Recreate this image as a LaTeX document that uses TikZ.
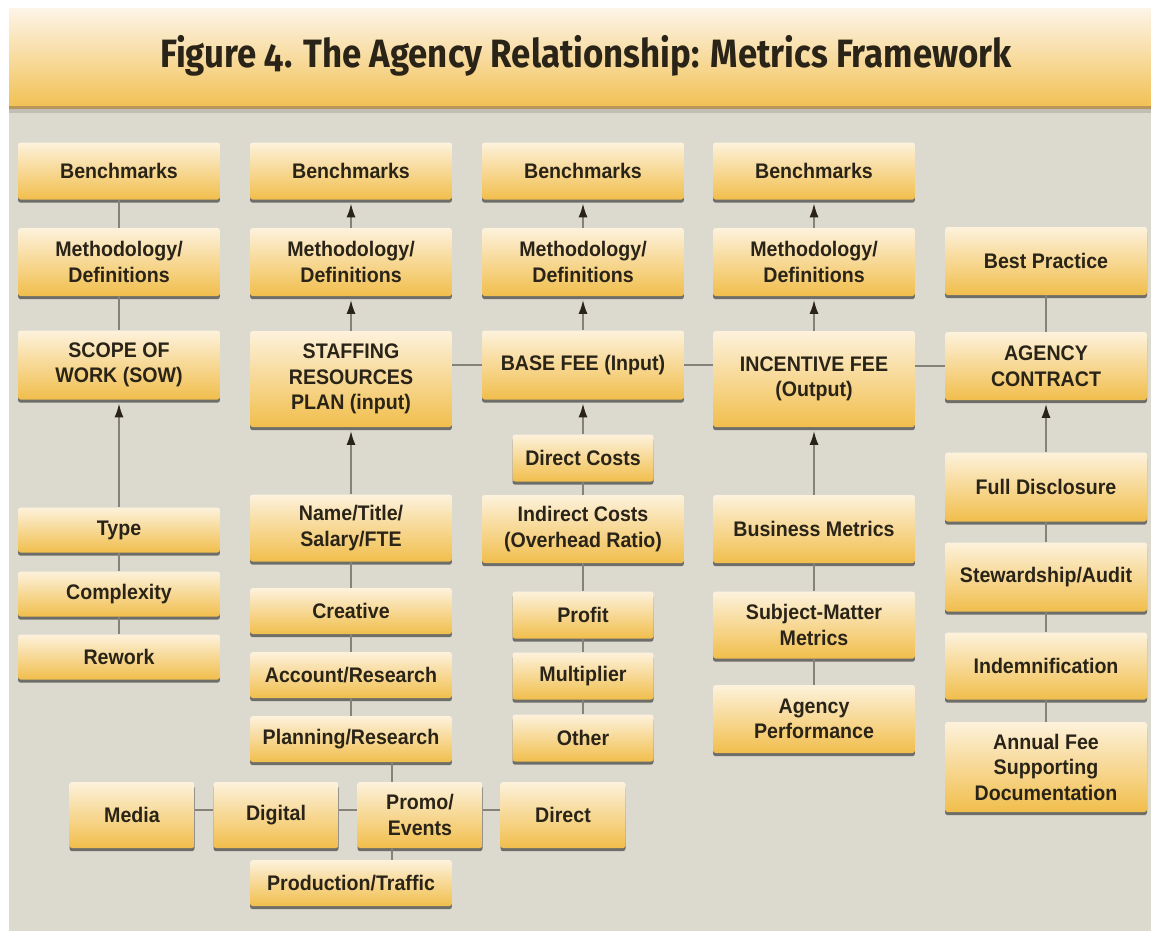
\documentclass[tikz,border=0pt]{standalone}
\usepackage{fontspec}
\setmainfont{Liberation Sans}[FakeStretch=0.93]
\newfontfamily\headfont{Fira Sans}[FakeStretch=0.88, Numbers=OldStyle]
\usetikzlibrary{arrows.meta,shadows}
\definecolor{cardtop}{HTML}{FDF2DC}
\definecolor{cardbot}{HTML}{F1BE4C}
\definecolor{panel}{HTML}{DCDACF}
\definecolor{bandtop}{HTML}{FDF5E8}
\definecolor{bandbot}{HTML}{F2C155}
\definecolor{bandedge}{HTML}{B8955A}
\definecolor{ink}{HTML}{2A2418}
\definecolor{wire}{HTML}{85827A}

\begin{document}
\begin{tikzpicture}[x=0.02cm, y=-0.02cm,
    card/.style={rectangle, rounded corners=1.5pt, top color=cardtop, bottom color=cardbot,
        drop shadow={shadow xshift=0pt, shadow yshift=-1.8pt, opacity=0.65, fill=black!80},
        text=ink, font=\bfseries\fontsize{12}{14.5}\selectfont, align=center,
        inner sep=0pt, minimum width=4.04cm, minimum height=1.36cm},
    ht/.style={minimum height=#1*0.02cm},
    wd/.style={minimum width=#1*0.02cm},
    link/.style={draw=wire, line width=1.1pt},
    arr/.style={draw=wire, line width=1.1pt, -{Latex[length=8pt, width=5.2pt, color=ink]}, shorten >=2pt}]
        \useasboundingbox (0,0) rectangle (1151,931);
        \fill[white] (0,0) rectangle (1151,931);
        \fill[panel] (9,108) rectangle (1151,931);
        \fill[black, opacity=0.12] (9,108) rectangle (1151,113);
        \fill[top color=bandtop, bottom color=bandbot] (9,8) rectangle (1151,106);
        \fill[bandedge] (9,106) rectangle (1151,109);
        \node[anchor=base, text=ink, font=\headfont\bfseries\fontsize{22.5}{26}\selectfont] (title) at (586,67) {Figure 4. The Agency Relationship: Metrics Framework};

        % scope of work
        \node[card, ht=57] (bench1) at (119,171) {Benchmarks};
        \node[card, ht=68] (meth1) at (119,262) {Methodology/\\Definitions};
        \node[card, ht=69] (sow) at (119,365) {SCOPE OF\\WORK (SOW)};
        \node[card, ht=45] (type) at (119,530) {Type};
        \node[card, ht=45] (cplx) at (119,594) {Complexity};
        \node[card, ht=45] (rework) at (119,657) {Rework};

        % staffing
        \node[card, ht=57] (bench2) at (351,171) {Benchmarks};
        \node[card, ht=68] (meth2) at (351,262) {Methodology/\\Definitions};
        \node[card, ht=96] (staff) at (351,379) {STAFFING\\RESOURCES\\PLAN (input)};
        \node[card, ht=67] (name) at (351,528) {Name/Title/\\Salary/FTE};
        \node[card, ht=46] (creative) at (351,611) {Creative};
        \node[card, ht=46] (account) at (351,675) {Account/Research};
        \node[card, ht=46] (planning) at (351,739) {Planning/Research};
        \node[card, wd=125, ht=66] (media) at (132,815) {Media};
        \node[card, wd=125, ht=66] (digital) at (276,815) {Digital};
        \node[card, wd=125, ht=66] (promo) at (420,815) {Promo/\\Events};
        \node[card, wd=125, ht=66] (direct) at (563,815) {Direct};
        \node[card, ht=46] (prod) at (351,883) {Production/Traffic};

        % base fee
        \node[card, ht=57] (bench3) at (583,171) {Benchmarks};
        \node[card, ht=68] (meth3) at (583,262) {Methodology/\\Definitions};
        \node[card, ht=69] (base) at (583,365) {BASE FEE (Input)};
        \node[card, wd=141, ht=47] (dcost) at (583,458) {Direct Costs};
        \node[card, ht=68] (icost) at (583,529) {Indirect Costs\\(Overhead Ratio)};
        \node[card, wd=141, ht=47] (profit) at (583,615) {Profit};
        \node[card, wd=141, ht=47] (mult) at (583,676) {Multiplier};
        \node[card, wd=141, ht=47] (other) at (583,738) {Other};

        % incentive fee
        \node[card, ht=57] (bench4) at (814,171) {Benchmarks};
        \node[card, ht=68] (meth4) at (814,262) {Methodology/\\Definitions};
        \node[card, ht=96] (incent) at (814,379) {INCENTIVE FEE\\(Output)};
        \node[card, ht=68] (bizm) at (814,529) {Business Metrics};
        \node[card, ht=67] (subj) at (814,625) {Subject-Matter\\Metrics};
        \node[card, ht=68] (aperf) at (814,719) {Agency\\Performance};

        % agency contract
        \node[card, ht=68] (best) at (1046,261) {Best Practice};
        \node[card, ht=68] (contract) at (1046,366) {AGENCY\\CONTRACT};
        \node[card, ht=69] (full) at (1046,487) {Full Disclosure};
        \node[card, ht=69] (stew) at (1046,577) {Stewardship/Audit};
        \node[card, ht=67] (indem) at (1046,666) {Indemnification};
        \node[card, ht=90] (annual) at (1046,767) {Annual Fee\\Supporting\\Documentation};

        % plain links
        \draw[link] (bench1) -- (meth1);
        \draw[link] (meth1) -- (sow);
        \draw[link] (type) -- (cplx);
        \draw[link] (cplx) -- (rework);
        \draw[link] (name) -- (creative);
        \draw[link] (creative) -- (account);
        \draw[link] (account) -- (planning);
        \draw[link] ([xshift=-0.56cm]promo.north) -- ([xshift=-0.56cm]promo.north |- planning.south);
        \draw[link] ([xshift=-0.56cm]promo.south) -- ([xshift=-0.56cm]promo.south |- prod.north);
        \draw[link] ([yshift=3pt]media.east) -- ([yshift=3pt]digital.west);
        \draw[link] ([yshift=3pt]digital.east) -- ([yshift=3pt]promo.west);
        \draw[link] ([yshift=3pt]promo.east) -- ([yshift=3pt]direct.west);
        \draw[link] (dcost) -- (icost);
        \draw[link] (icost) -- (profit);
        \draw[link] (profit) -- (mult);
        \draw[link] (mult) -- (other);
        \draw[link] (bizm) -- (subj);
        \draw[link] (subj) -- (aperf);
        \draw[link] (best) -- (contract);
        \draw[link] (full) -- (stew);
        \draw[link] (stew) -- (indem);
        \draw[link] (indem) -- (annual);
        \draw[link] (staff.east |- base.west) -- (base.west);
        \draw[link] (base.east) -- (base.east -| incent.west);
        \draw[link] (incent.east |- contract.west) -- (contract.west);

        % arrows
        \draw[arr] (type) -- (sow);
        \draw[arr] (meth2) -- (bench2);
        \draw[arr] (staff) -- (meth2);
        \draw[arr] (name) -- (staff);
        \draw[arr] (meth3) -- (bench3);
        \draw[arr] (base) -- (meth3);
        \draw[arr] (dcost) -- (base);
        \draw[arr] (meth4) -- (bench4);
        \draw[arr] (incent) -- (meth4);
        \draw[arr] (bizm) -- (incent);
        \draw[arr] (full) -- (contract);
\end{tikzpicture}
\end{document}
